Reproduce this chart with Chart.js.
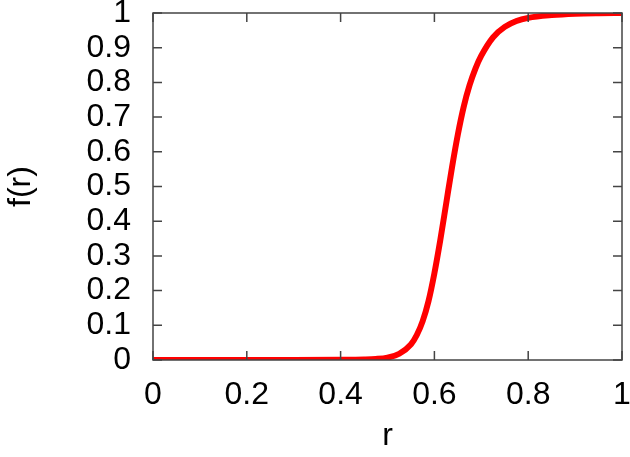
<!DOCTYPE html>
<html>
<head>
<meta charset="utf-8">
<script src="https://cdn.jsdelivr.net/npm/chart.js@4/dist/chart.umd.min.js"></script>
<style>
  html, body { margin: 0; padding: 0; background: #fff; }
  #wrap { width: 630px; height: 457px; }
</style>
</head>
<body>
<div id="wrap"><canvas id="fChart" width="630" height="457"></canvas></div>
<script>
// values
const rValues = [0, 0.1, 0.2, 0.3, 0.4, 0.45, 0.475, 0.5, 0.525, 0.55, 0.5625, 0.575, 0.5875, 0.6, 0.6125, 0.625, 0.6375, 0.65, 0.6625, 0.675, 0.6875, 0.7, 0.725, 0.75, 0.775, 0.8, 0.85, 0.9, 0.95, 1];
const fValues = [0, 0, 0, 0, 0.0005, 0.0015, 0.003, 0.007, 0.018, 0.045, 0.072, 0.112, 0.17, 0.25, 0.345, 0.45, 0.555, 0.65, 0.73, 0.792, 0.84, 0.877, 0.93, 0.96, 0.977, 0.986, 0.994, 0.998, 0.9995, 1];
const xTicks = [0, 0.2, 0.4, 0.6, 0.8, 1];
const yTicks = [0, 0.1, 0.2, 0.3, 0.4, 0.5, 0.6, 0.7, 0.8, 0.9, 1];

const points = rValues.map((r, i) => ({ x: r, y: fValues[i] }));

// gnuplot-like frame with inward ticks on all four sides
const framePlugin = {
    id: 'frame',
    afterDatasetsDraw(chart) {
        const { ctx, chartArea: a, scales } = chart;
        const len = 9;
        ctx.save();
        ctx.strokeStyle = '#444';
        ctx.lineWidth = 1.5;
        ctx.strokeRect(a.left, a.top, a.right - a.left, a.bottom - a.top);
        ctx.beginPath();
        xTicks.forEach(v => {
            const px = scales.x.getPixelForValue(v);
            ctx.moveTo(px, a.bottom); ctx.lineTo(px, a.bottom - len);
            ctx.moveTo(px, a.top); ctx.lineTo(px, a.top + len);
        });
        yTicks.forEach(v => {
            const py = scales.y.getPixelForValue(v);
            ctx.moveTo(a.left, py); ctx.lineTo(a.left + len, py);
            ctx.moveTo(a.right, py); ctx.lineTo(a.right - len, py);
        });
        ctx.stroke();
        ctx.restore();
    }
};

Chart.defaults.font.family = "'Liberation Sans', Arial, sans-serif";
Chart.defaults.color = '#000';

new Chart(document.getElementById('fChart').getContext('2d'), {
    type: 'scatter',
    data: {
        datasets: [{
            data: points,
            showLine: true,
            borderColor: '#ff0000',
            borderWidth: 6,
            pointRadius: 0,
            cubicInterpolationMode: 'monotone'
        }]
    },
    options: {
        responsive: false,
        animation: false,
        layout: { padding: { top: 13, right: 8, left: 0, bottom: 0 } },
        plugins: { legend: { display: false }, tooltip: { enabled: false } },
        scales: {
            x: {
                type: 'linear', min: 0, max: 1,
                afterBuildTicks: s => { s.ticks = xTicks.map(v => ({ value: v })); },
                afterFit: s => { s.height = 97; s.paddingLeft = 0; s.paddingRight = 0; },
                grid: { display: false, drawTicks: false },
                border: { display: false },
                ticks: { font: { size: 32 }, padding: 16, maxRotation: 0, autoSkip: false, callback: v => String(v) },
                title: { display: true, text: 'r', font: { size: 32 }, padding: { top: 0, bottom: 2 } }
            },
            y: {
                type: 'linear', min: 0, max: 1,
                afterBuildTicks: s => { s.ticks = yTicks.map(v => ({ value: v })); },
                afterFit: s => { s.width = 153; s.paddingTop = 0; s.paddingBottom = 0; },
                grid: { display: false, drawTicks: false },
                border: { display: false },
                ticks: { font: { size: 32 }, padding: 22, autoSkip: false, callback: v => String(v) },
                title: { display: true, text: 'f(r)', font: { size: 32 }, padding: { top: 2, bottom: 0 } }
            }
        }
    },
    plugins: [framePlugin]
});
</script>
</body>
</html>
